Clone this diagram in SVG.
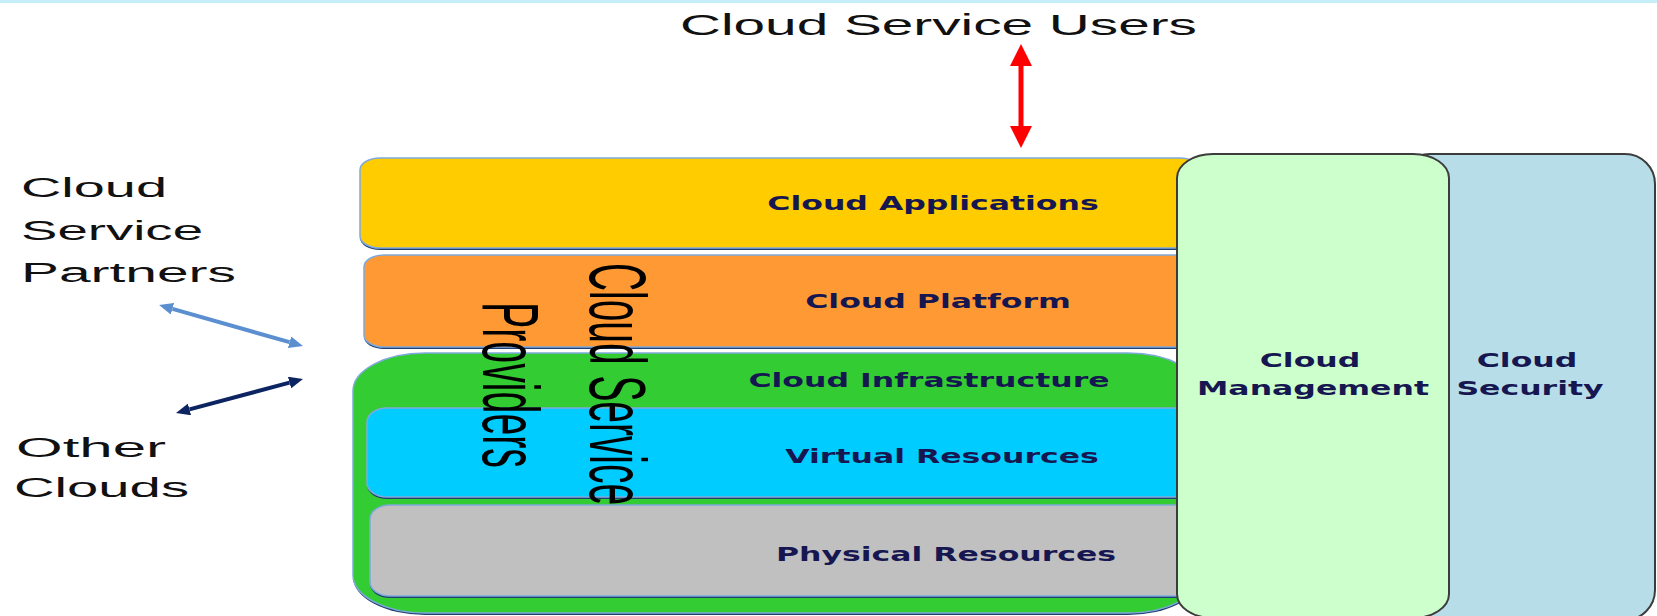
<svg xmlns="http://www.w3.org/2000/svg" width="1657" height="616" viewBox="0 0 1657 616">
<style>
.lbl{font-family:"DejaVu Sans",Verdana,sans-serif;font-weight:bold;font-size:19px;fill:#161650;text-anchor:middle}
.side{font-family:"Liberation Sans",Arial,sans-serif;font-size:27px;fill:#111}
.top{font-family:"Liberation Sans",Arial,sans-serif;font-size:30px;fill:#111}
.vert{font-family:"Liberation Sans",Arial,sans-serif;font-size:39px;fill:#000;text-anchor:middle}
.shadow{fill:#1f3f6f}
.layer{stroke:#7fa9dc;stroke-width:1.5}
.col{stroke:#3c3c3c;stroke-width:2}
</style>
<defs>
<marker id="hRed" markerUnits="userSpaceOnUse" markerWidth="22" markerHeight="22" viewBox="0 0 22 22" refX="0" refY="11" orient="auto-start-reverse"><path d="M0,0 L22,11 L0,22 z" fill="#ff0000"/></marker>
<marker id="hLight" markerUnits="userSpaceOnUse" markerWidth="14" markerHeight="12" viewBox="0 0 14 12" refX="0" refY="6" orient="auto-start-reverse"><path d="M0,0 L14,6 L0,12 z" fill="#5b8fd0"/></marker>
<marker id="hDark" markerUnits="userSpaceOnUse" markerWidth="14" markerHeight="12" viewBox="0 0 14 12" refX="0" refY="6" orient="auto-start-reverse"><path d="M0,0 L14,6 L0,12 z" fill="#0c2461"/></marker>
</defs>
<rect x="0" y="0" width="1657" height="616" fill="#ffffff"/>
<rect x="0" y="0" width="1657" height="3" fill="#c6eef9"/>

<g id="cloud-service-users">
<text class="top" x="680" y="35" textLength="517" lengthAdjust="spacingAndGlyphs">Cloud Service Users</text>
</g>
<g id="cloud-service-partners">
<text class="side" x="21" y="197" textLength="146" lengthAdjust="spacingAndGlyphs">Cloud</text>
<text class="side" x="21" y="240" textLength="182" lengthAdjust="spacingAndGlyphs">Service</text>
<text class="side" x="21" y="282" textLength="215" lengthAdjust="spacingAndGlyphs">Partners</text>
</g>
<g id="other-clouds">
<text class="side" x="16" y="457" textLength="150" lengthAdjust="spacingAndGlyphs">Other</text>
<text class="side" x="14" y="497" textLength="175" lengthAdjust="spacingAndGlyphs">Clouds</text>
</g>

<g id="cloud-security">
<rect class="col" x="1400" y="154" width="255" height="466" rx="30" ry="30" fill="#b7dee8"/>
</g>

<g id="cloud-applications">
<rect class="shadow" x="360" y="160" width="840" height="90" rx="20" ry="12"/>
<rect class="layer" x="360" y="158" width="840" height="90" rx="20" ry="12" fill="#ffcc00"/>
<text class="lbl" transform="translate(933,210) scale(1.66,1)">Cloud Applications</text>
</g>
<g id="cloud-platform">
<rect class="shadow" x="364" y="257" width="836" height="92" rx="20" ry="12"/>
<rect class="layer" x="364" y="255" width="836" height="92" rx="20" ry="12" fill="#ff9933"/>
<text class="lbl" transform="translate(938,308) scale(1.66,1)">Cloud Platform</text>
</g>
<g id="cloud-infrastructure">
<rect class="shadow" x="353" y="355" width="847" height="260" rx="72" ry="38"/>
<rect class="layer" x="353" y="353" width="847" height="260" rx="72" ry="38" fill="#33cc33"/>
<text class="lbl" transform="translate(929,387) scale(1.66,1)">Cloud Infrastructure</text>
</g>
<g id="virtual-resources">
<rect class="shadow" x="367" y="410" width="833" height="89" rx="20" ry="14"/>
<rect class="layer" x="367" y="408" width="833" height="89" rx="20" ry="14" fill="#00ccff"/>
<text class="lbl" transform="translate(942,463) scale(1.66,1)">Virtual Resources</text>
</g>
<g id="physical-resources">
<rect class="shadow" x="370" y="507" width="830" height="91" rx="20" ry="14"/>
<rect class="layer" x="370" y="505" width="830" height="91" rx="20" ry="14" fill="#c0c0c0"/>
<text class="lbl" transform="translate(946,561) scale(1.66,1)">Physical Resources</text>
</g>

<g id="cloud-service-providers">
<text class="vert" transform="translate(590,384) rotate(90) scale(1,2.04)" x="0" y="0" textLength="242" lengthAdjust="spacingAndGlyphs">Cloud Service</text>
<text class="vert" transform="translate(483,385) rotate(90) scale(1,2.04)" x="0" y="0" textLength="166" lengthAdjust="spacingAndGlyphs">Providers</text>
</g>

<g id="cloud-management">
<rect class="col" x="1177" y="154" width="272" height="464" rx="36" ry="24" fill="#ccffcc"/>
<text class="lbl" transform="translate(1310,367) scale(1.66,1)">Cloud</text>
<text class="lbl" transform="translate(1313,395) scale(1.66,1)">Management</text>
</g>
<g id="cloud-security-label">
<text class="lbl" transform="translate(1527,367) scale(1.66,1)">Cloud</text>
<text class="lbl" transform="translate(1530,395) scale(1.66,1)">Security</text>
</g>

<g id="connectors" fill="none">
<line x1="1021" y1="66" x2="1021" y2="126" stroke="#ff0000" stroke-width="5" marker-start="url(#hRed)" marker-end="url(#hRed)"/>
<line x1="172.5" y1="308.8" x2="289.5" y2="342.2" stroke="#5b8fd0" stroke-width="4" marker-start="url(#hLight)" marker-end="url(#hLight)"/>
<line x1="189.5" y1="409.4" x2="289.5" y2="382.6" stroke="#0c2461" stroke-width="4" marker-start="url(#hDark)" marker-end="url(#hDark)"/>
</g>
</svg>
